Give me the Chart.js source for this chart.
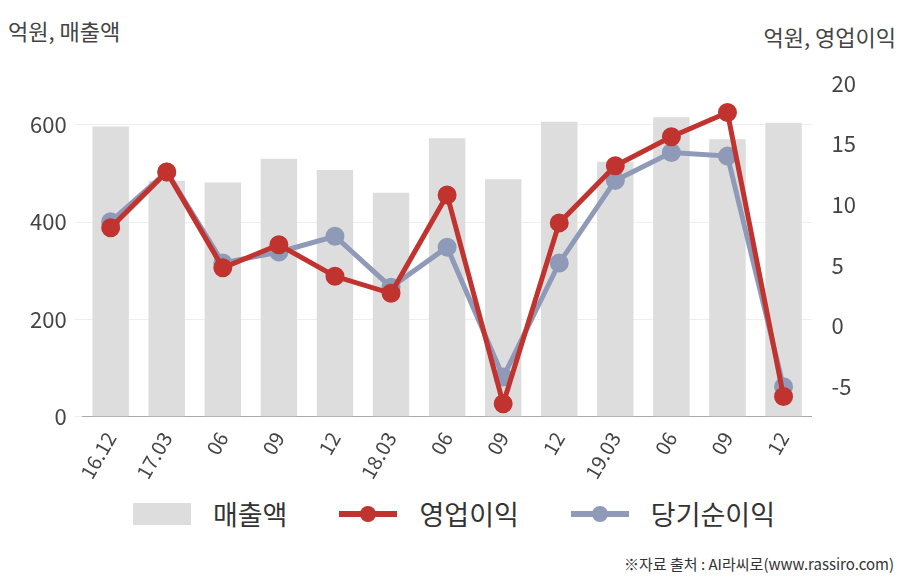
<!DOCTYPE html>
<html><head><meta charset="utf-8">
<script src="https://cdn.jsdelivr.net/npm/chart.js@4"></script>
<style>body{margin:0;background:#fff;}#w{position:relative;width:908px;height:580px;font-family:"Noto Sans CJK KR",sans-serif;}
.t{position:absolute;font-size:22px;color:#444;}
#lg{position:absolute;left:0;top:494px;width:908px;display:flex;justify-content:center;gap:52px;font-size:27px;color:#333;}
.it{display:flex;align-items:center;gap:22px;}
.sw{position:relative;width:58px;height:22px;}
</style></head>
<body><div id="w">
<div class="t" style="left:8px;top:14px">억원, 매출액</div>
<div class="t" style="right:12px;top:20px">억원, 영업이익</div>
<div class="t" style="right:14px;top:553px;font-size:15px;color:#333">※자료 출처 : AI라씨로(www.rassiro.com)</div>
<canvas id="c" width="908" height="490" style="position:absolute;left:0;top:0"></canvas>
<div id="lg"></div></div>
<script>
const categories=["16.12","17.03","06","09","12","18.03","06","09","12","19.03","06","09","12"];
const revenue=[596,485,481,530,507,460,572,488,606,524,615,570,604];
const opProfit=[8.1,12.7,4.8,6.7,4.1,2.7,10.8,-6.4,8.5,13.2,15.6,17.6,-5.8];
const netProfit=[8.6,12.7,5.2,6.1,7.4,3.2,6.5,-4.2,5.2,12.0,14.3,14.0,-5.0];
const leftTicks=[0,200,400,600];
const rightTicks=[-5,0,5,10,15,20];
Chart.defaults.font.family='"Noto Sans CJK KR",sans-serif';
const ch=new Chart(document.getElementById('c'),{
data:{labels:categories,datasets:[
{type:'line',label:'영업이익',data:opProfit,yAxisID:'y1',borderColor:'#c0332f',backgroundColor:'#c0332f',borderWidth:5,pointRadius:7,pointBackgroundColor:'#c0332f',tension:0,order:1},
{type:'line',label:'당기순이익',data:netProfit,yAxisID:'y1',borderColor:'#8e9ab7',backgroundColor:'#8e9ab7',borderWidth:5,pointRadius:7,pointBackgroundColor:'#8e9ab7',tension:0,order:2},
{type:'bar',label:'매출액',data:revenue,yAxisID:'y',backgroundColor:'#dddddd',barPercentage:0.65,categoryPercentage:1,order:3}
]},
options:{responsive:false,animation:false,
layout:{padding:{top:76,left:22,right:40,bottom:4}},
plugins:{legend:{display:false},tooltip:{enabled:false}},
scales:{
x:{grid:{display:false},border:{color:'#aaa'},ticks:{color:'#444',font:{size:20},maxRotation:60,minRotation:60}},
y:{position:'left',min:0,max:700,afterBuildTicks:a=>{a.ticks=leftTicks.map(v=>({value:v}));},grid:{color:'#eeeeee'},border:{display:false},ticks:{color:'#444',font:{size:22},padding:8}},
y1:{position:'right',min:-7.47,max:20.6,afterBuildTicks:a=>{a.ticks=rightTicks.map(v=>({value:v}));},grid:{display:false},border:{display:false},ticks:{color:'#444',font:{size:22},padding:12}}
}}});
const lg=document.getElementById('lg');
[2,0,1].forEach(i=>{const d=ch.data.datasets[i];const it=document.createElement('div');it.className='it';
const sw=document.createElement('div');sw.className='sw';
if(d.type==='bar'){sw.style.background=d.backgroundColor;}
else{sw.innerHTML='<div style="position:absolute;left:0;top:8px;width:58px;height:6px;background:'+d.borderColor+'"></div><div style="position:absolute;left:21px;top:3px;width:16px;height:16px;border-radius:50%;background:'+d.borderColor+'"></div>';}
const tx=document.createElement('span');tx.textContent=d.label;it.appendChild(sw);it.appendChild(tx);lg.appendChild(it);});
</script></body></html>
